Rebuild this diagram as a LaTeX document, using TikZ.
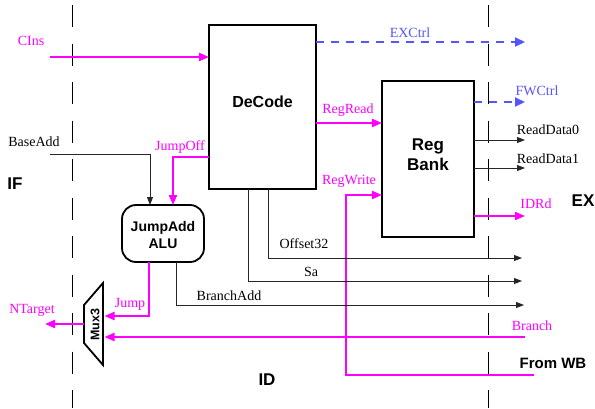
\documentclass[tikz,border=0pt]{standalone}
\usepackage{fontspec}
\setmainfont{Liberation Serif}
\setsansfont{Liberation Sans}
\usetikzlibrary{arrows.meta}
\definecolor{mag}{RGB}{255,0,255}
\definecolor{ctrlblue}{RGB}{85,85,255}
\begin{document}
\begin{tikzpicture}[x=1pt,y=-1pt,
 box/.style={draw,line width=1.8pt,inner sep=0,outer sep=0},
 lbl/.style={font=\fontsize{14}{14}\selectfont,inner sep=0},
 mlbl/.style={lbl,text=mag},
 blbl/.style={lbl,text=ctrlblue},
 boldtxt/.style={font=\sffamily\bfseries\fontsize{#1}{#1}\selectfont,inner sep=0,align=center},
 stage/.style={draw,dash pattern=on 22pt off 16.5pt,line width=0.9pt},
 wire/.style={draw,line width=0.9pt,black!85},
 warrow/.style={wire,-{Triangle[length=8pt,width=6pt]}},
 mwire/.style={draw,line width=2pt,mag},
 marrow/.style={mwire,-{Triangle[length=10pt,width=8pt]}},
 carrow/.style={draw,line width=2.2pt,ctrlblue,dash pattern=on 8pt off 7pt,-{Triangle[length=10pt,width=9pt]}},
]
\useasboundingbox (0,0) rectangle (595,408);

% stage boundaries
\draw[stage] (72,5) -- (72,408);
\draw[stage] (488,5) -- (488,408);

% blocks
\node[box,minimum width=107pt,minimum height=164pt] (dec) at (262.5,107) {};
\node[boldtxt=16] (dect) at (262.5,102) {DeCode};
\node[box,minimum width=92pt,minimum height=156pt] (rb) at (428,159) {};
\node[boldtxt=17,font=\sffamily\bfseries\fontsize{17}{20}\selectfont] (rbt) at (428,155) {Reg\\Bank};
\node[box,rounded corners=14pt,minimum width=82pt,minimum height=57pt] (alu) at (163,233.5) {};
\node[boldtxt=14,font=\sffamily\bfseries\fontsize{14}{16.5}\selectfont] (alut) at (163,235) {JumpAdd\\ALU};

% mux
\coordinate (m1) at (103,283);
\coordinate (m2) at (103,365);
\coordinate (m3) at (84,343);
\coordinate (m4) at (84,305);
\draw[line width=1.8pt,line join=miter] (m1) -- (m2) -- (m3) -- (m4) -- cycle;
\node[boldtxt=12.5,rotate=90] (muxt) at (95,325) {Mux3};

% level coordinates
\coordinate (cinS) at (50,57);
\coordinate (exE) at (525,42);
\coordinate (fwE) at (525,102);
\coordinate (rrY) at (0,123);
\coordinate (rd0E) at (525,140);
\coordinate (rd1E) at (525,168);
\coordinate (idrdE) at (525,216);
\coordinate (rwY) at (0,195);
\coordinate (wbS) at (534,375);
\coordinate (wbC) at (346,375);
\coordinate (brS) at (525,337);
\coordinate (muxB) at (104.5,337);
\coordinate (muxJ) at (104.5,316);
\coordinate (muxO) at (84,324);
\coordinate (ntE) at (45,324);
\coordinate (offC) at (268,258);
\coordinate (offE) at (522,258);
\coordinate (saC) at (248,281);
\coordinate (saE) at (522,281);
\coordinate (baC) at (176,305);
\coordinate (baE) at (524,305);
\coordinate (bsS) at (50,154);
\coordinate (bsC) at (150,154);
\coordinate (joY) at (0,157);
\coordinate (joC) at (173,157);
\coordinate (jmC) at (149,316);

% connectors
\draw[marrow] (cinS) -- (cinS -| dec.west);
\draw[carrow] (exE -| dec.east) -- (exE);
\draw[marrow] (dec.east |- rrY) -- (rb.west |- rrY);
\draw[carrow] (fwE -| rb.east) -- (fwE);
\draw[warrow] (rd0E -| rb.east) -- (rd0E);
\draw[warrow] (rd1E -| rb.east) -- (rd1E);
\draw[marrow] (idrdE -| rb.east) -- (idrdE);
\draw[marrow] (wbS) -- (wbC) -- (wbC |- rwY) -- (rb.west |- rwY);
\draw[marrow] (brS) -- (muxB);
\draw[warrow] (dec.south -| offC) -- (offC) -- (offE);
\draw[warrow] (dec.south -| saC) -- (saC) -- (saE);
\draw[warrow] (alu.south -| baC) -- (baC) -- (baE);
\draw[warrow] (bsS) -- (bsC) -- (alu.north -| bsC);
\draw[marrow] (dec.west |- joY) -- (joC) -- (alu.north -| joC);
\draw[marrow] (alu.south -| jmC) -- (jmC) -- (muxJ);
\draw[marrow] (muxO) -- (ntE);

% labels
\node[mlbl] (l1) at (31,41) {CIns};
\node[lbl] (l2) at (34,142) {BaseAdd};
\node[mlbl] (l3) at (180,147) {JumpOff};
\node[blbl] (l4) at (410,33) {EXCtrl};
\node[blbl] (l5) at (537,91) {FWCtrl};
\node[mlbl] (l6) at (348,110) {RegRead};
\node[lbl] (l7) at (548,130) {ReadData0};
\node[lbl] (l8) at (548,159) {ReadData1};
\node[mlbl] (l9) at (349,181) {RegWrite};
\node[mlbl] (l10) at (536,204) {IDRd};
\node[lbl] (l11) at (304,244) {Offset32};
\node[lbl] (l12) at (311,272) {Sa};
\node[lbl] (l13) at (229,296) {BranchAdd};
\node[mlbl] (l14) at (130,304) {Jump};
\node[mlbl] (l15) at (32,310) {NTarget};
\node[mlbl] (l16) at (532,326) {Branch};
\node[boldtxt=15] (l17) at (553,363) {From WB};
\node[boldtxt=17] (sIF) at (15,184) {IF};
\node[boldtxt=17] (sID) at (267,380) {ID};
\node[boldtxt=17] (sEX) at (583,201) {EX};
\end{tikzpicture}
\end{document}
